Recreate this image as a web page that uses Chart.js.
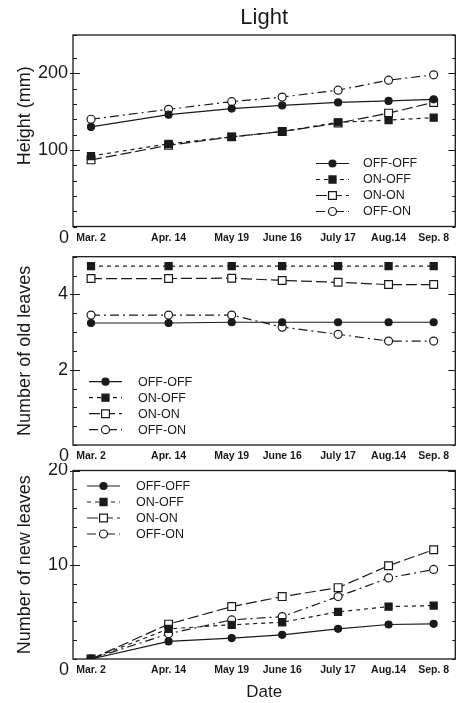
<!DOCTYPE html>
<html>
<head>
<meta charset="utf-8">
<title>Light</title>
<script src="https://cdn.jsdelivr.net/npm/chart.js@4.4.0/dist/chart.umd.min.js"></script>
<style>
  html, body { margin: 0; padding: 0; background: #fff; overflow: hidden; }
  #page { position: relative; width: 458px; height: 703px; overflow: hidden; }
  canvas { position: absolute; left: 0; }
</style>
</head>
<body>
<div id="page">
  <canvas id="heightChart" width="462" height="250" style="top:0"></canvas>
  <canvas id="oldLeavesChart" width="462" height="213" style="top:250px"></canvas>
  <canvas id="newLeavesChart" width="462" height="240" style="top:463px"></canvas>
</div>
<script>
// days after Mar. 2 for each sampling date
const dayOffsets = [0, 43, 78, 106, 137, 165, 190];
const dateLabels = ['Mar. 2', 'Apr. 14', 'May 19', 'June 16', 'July 17', 'Aug.14', 'Sep. 8'];
const treatments = ['OFF-OFF', 'ON-OFF', 'ON-ON', 'OFF-ON'];

// Height (mm)
const heightOffOff = [130, 146, 154, 158, 162, 164, 166];
const heightOnOff  = [92, 108, 117, 124, 136, 139, 142];
const heightOnOn   = [87, 106, 117, 124, 135, 148, 162];
const heightOffOn  = [140, 153, 163, 169, 178, 191, 198];

// Number of old leaves
const oldOffOff = [3.24, 3.24, 3.26, 3.26, 3.26, 3.26, 3.26];
const oldOnOff  = [4.75, 4.75, 4.75, 4.75, 4.75, 4.75, 4.75];
const oldOnOn   = [4.42, 4.42, 4.43, 4.37, 4.32, 4.26, 4.26];
const oldOffOn  = [3.45, 3.45, 3.45, 3.13, 2.94, 2.76, 2.76];

// Number of new leaves
const newOffOff = [0, 1.87, 2.22, 2.57, 3.2, 3.66, 3.73];
const newOnOff  = [0, 3.2, 3.63, 3.9, 5.0, 5.56, 5.67];
const newOnOn   = [0, 3.7, 5.56, 6.62, 7.57, 9.9, 11.6];
const newOffOn  = [0, 2.68, 4.15, 4.5, 6.62, 8.6, 9.5];

// y tick labels shown on each panel
const heightTickLabels = [100, 200];
const oldTickLabels = [2, 4];
const newTickLabels = [10, 20];

const ink = '#1a1a1a';
Chart.defaults.font.family = '"Liberation Sans", Arial, sans-serif';
Chart.defaults.color = ink;

const seriesStyles = {
    'OFF-OFF': { dash: [], point: 'circle', fill: ink, radius: 3.5 },
    'ON-OFF': { dash: [4, 4], point: 'rect', fill: ink, radius: 5 },
    'ON-ON': { dash: [11, 4], point: 'rect', fill: '#fff', radius: 5.5 },
    'OFF-ON': { dash: [9, 4, 2, 4], point: 'circle', fill: '#fff', radius: 4 }
};

function makeDatasets(seriesValues) {
    return treatments.map((name, i) => {
        const st = seriesStyles[name];
        return {
            label: name,
            data: seriesValues[i].map((v, j) => ({ x: dayOffsets[j], y: v })),
            borderColor: ink,
            borderWidth: 1.2,
            borderDash: st.dash,
            pointStyle: st.point,
            pointRadius: st.radius,
            pointBackgroundColor: st.fill,
            pointBorderColor: ink,
            pointBorderWidth: 1.2,
            tension: 0
        };
    });
}

// frame, inward ticks, the corner "0" and the in-plot legend
const panelDecor = {
    id: 'panelDecor',
    afterDraw(chart, args, opts) {
        const { ctx, chartArea: a } = chart;
        const y = chart.scales.y;
        ctx.save();
        ctx.strokeStyle = ink;
        ctx.lineWidth = 1.3;
        ctx.setLineDash([]);
        ctx.strokeRect(a.left, a.top, a.right - a.left, a.bottom - a.top);

        ctx.lineWidth = 1.1;
        y.ticks.forEach(t => {
            const py = Math.round(y.getPixelForValue(t.value)) + 0.5;
            const major = opts.majorTicks.includes(t.value);
            ctx.beginPath();
            ctx.moveTo(a.left - (major ? 3 : 0), py);
            ctx.lineTo(a.left + (major ? 7 : 4), py);
            ctx.moveTo(a.right, py);
            ctx.lineTo(a.right - (major ? 7 : 3), py);
            ctx.stroke();
        });

        ctx.fillStyle = ink;
        ctx.font = '18px "Liberation Sans", Arial, sans-serif';
        ctx.textAlign = 'right';
        ctx.textBaseline = 'middle';
        ctx.fillText('0', a.left - 4, a.bottom + 11.5);

        // legend
        ctx.font = '12.5px "Liberation Sans", Arial, sans-serif';
        ctx.textAlign = 'left';
        chart.data.datasets.forEach((ds, i) => {
            const ly = opts.legendY + i * 16;
            const lx = opts.legendX;
            ctx.strokeStyle = ink;
            ctx.lineWidth = 1.2;
            ctx.setLineDash(ds.borderDash);
            ctx.beginPath();
            ctx.moveTo(lx, ly);
            ctx.lineTo(lx + 33, ly);
            ctx.stroke();
            ctx.setLineDash([]);
            ctx.fillStyle = ds.pointBackgroundColor;
            ctx.lineWidth = 1.2;
            Chart.helpers.drawPoint(ctx, {
                pointStyle: ds.pointStyle,
                radius: ds.pointRadius,
                rotation: 0,
                borderWidth: 1.2
            }, lx + 16.5, ly);
            ctx.fillStyle = ink;
            ctx.fillText(ds.label, lx + opts.textGap, ly + 0.5);
        });
        ctx.restore();
    }
};

function makePanel(canvasId, cfg) {
    const ctx = document.getElementById(canvasId).getContext('2d');
    return new Chart(ctx, {
        type: 'line',
        data: { datasets: makeDatasets(cfg.series) },
        options: {
            responsive: false,
            animation: false,
            layout: { padding: { left: 10, right: 3, top: cfg.padTop, bottom: 0 } },
            plugins: {
                legend: { display: false },
                tooltip: { enabled: false },
                title: cfg.title ? {
                    display: true,
                    text: cfg.title,
                    fullSize: false,
                    font: { size: 22, weight: 'normal' },
                    color: ink,
                    padding: { top: 5, bottom: 3.6 }
                } : { display: false },
                panelDecor: {
                    majorTicks: cfg.tickLabels,
                    legendX: cfg.legendX,
                    legendY: cfg.legendY,
                    textGap: cfg.textGap
                }
            },
            scales: {
                x: {
                    type: 'linear',
                    min: -10,
                    max: 202,
                    afterBuildTicks: s => { s.ticks = dayOffsets.map(v => ({ value: v })); },
                    ticks: {
                        autoSkip: false,
                        maxRotation: 0,
                        padding: 5,
                        font: { size: 10.5, weight: 'bold' },
                        callback: (v, i) => dateLabels[i]
                    },
                    grid: { display: false, drawTicks: false },
                    border: { display: false },
                    title: cfg.xTitle ? {
                        display: true,
                        text: cfg.xTitle,
                        font: { size: 17 },
                        padding: { top: 4, bottom: 0 }
                    } : { display: false },
                    afterFit: s => { s.height = cfg.xHeight; s.paddingLeft = 0; s.paddingRight = 0; }
                },
                y: {
                    min: cfg.min,
                    max: cfg.max,
                    ticks: {
                        stepSize: cfg.step,
                        autoSkip: false,
                        padding: 5,
                        font: { size: 18 },
                        callback: v => cfg.tickLabels.includes(v) ? String(v) : ''
                    },
                    grid: { display: false, drawTicks: false },
                    border: { display: false },
                    title: {
                        display: true,
                        text: cfg.yTitle,
                        font: { size: 18 },
                        padding: { top: 4, bottom: 0 }
                    },
                    afterFit: s => { s.width = 63; s.paddingTop = 0; s.paddingBottom = 0; }
                }
            }
        },
        plugins: [panelDecor]
    });
}

makePanel('heightChart', {
    series: [heightOffOff, heightOnOff, heightOnOn, heightOffOn],
    title: 'Light',
    yTitle: '      Height (mm)',
    min: 0, max: 250, step: 20,
    tickLabels: heightTickLabels,
    padTop: 0, xHeight: 23.5,
    legendX: 316, legendY: 163.5, textGap: 47
});

makePanel('oldLeavesChart', {
    series: [oldOffOff, oldOnOff, oldOnOn, oldOffOn],
    yTitle: 'Number of old leaves',
    min: 0, max: 5, step: 0.5,
    tickLabels: oldTickLabels,
    padTop: 3, xHeight: 18,
    legendX: 89, legendY: 131.7, textGap: 49
});

makePanel('newLeavesChart', {
    series: [newOffOff, newOnOff, newOnOn, newOffOn],
    yTitle: 'Number of new leaves',
    xTitle: 'Date',
    min: 0, max: 20, step: 2,
    tickLabels: newTickLabels,
    padTop: 7.5, xHeight: 44,
    legendX: 87, legendY: 23, textGap: 49
});
</script>
</body>
</html>
